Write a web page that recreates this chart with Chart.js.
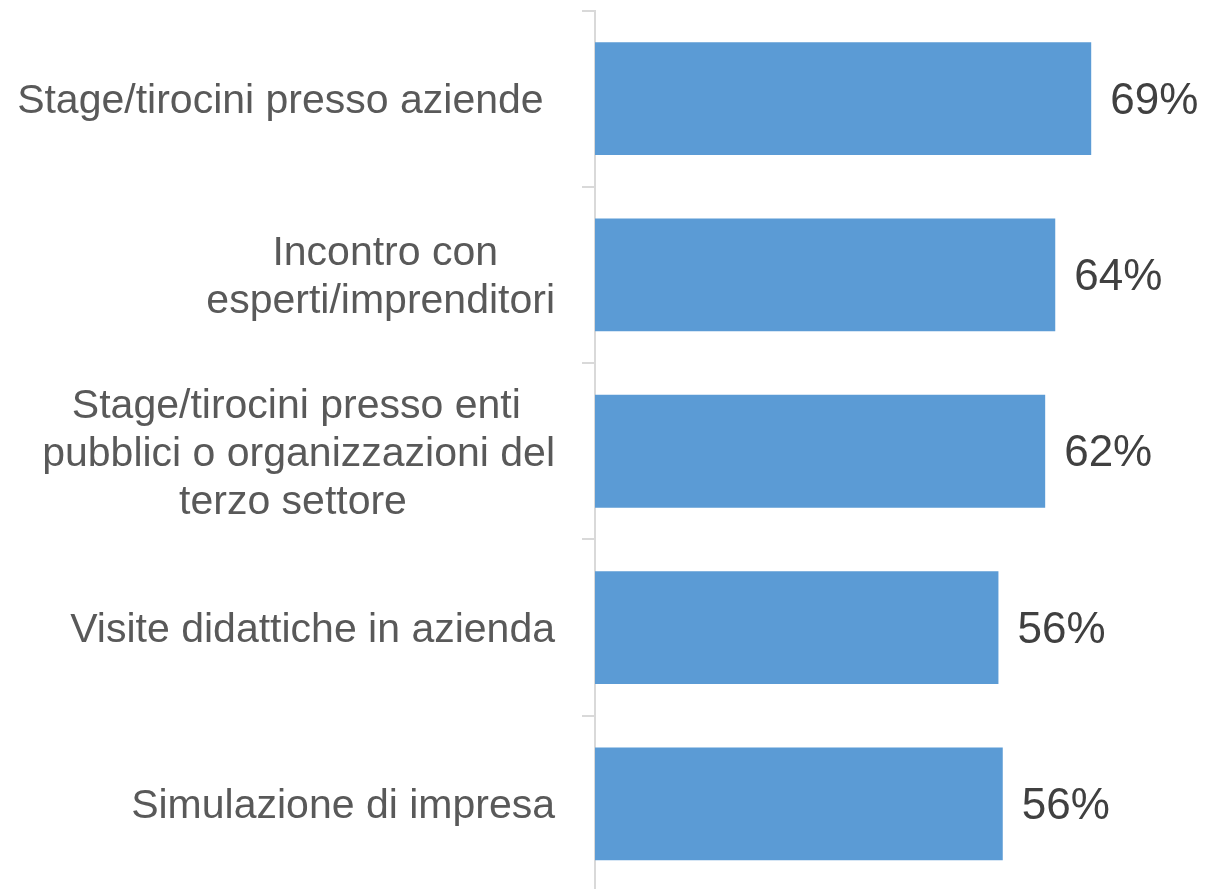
<!DOCTYPE html>
<html>
<head>
<meta charset="utf-8">
<script src="https://cdn.jsdelivr.net/npm/chart.js@4/dist/chart.umd.min.js"></script>
<style>
  html, body { margin: 0; padding: 0; background: #ffffff; overflow: hidden; }
  #wrap { position: relative; width: 1230px; height: 892px; }
</style>
</head>
<body>
<div id="wrap"><canvas id="c"></canvas></div>
<script>
const categories = [
  ["Stage/tirocini presso aziende "],
  ["Incontro con", "esperti/imprenditori"],
  ["Stage/tirocini presso enti", "pubblici o organizzazioni del", "terzo settore"],
  ["Visite didattiche in azienda"],
  ["Simulazione di impresa"]
];
const values = [69, 64, 62.6, 56.1, 56.7];
const valueLabels = ["69%", "64%", "62%", "56%", "56%"];

const TICK_FONT = { family: "'Liberation Sans', Arial, sans-serif", size: 41, lineHeight: 1.17 };
const VALUE_FONT = "44px 'Liberation Sans', Arial, sans-serif";

// center lines of a multi-line label inside a right-aligned block by padding with trailing spaces
const measureCtx = document.createElement('canvas').getContext('2d');
measureCtx.font = TICK_FONT.size + "px " + TICK_FONT.family;
const spaceW = measureCtx.measureText(' ').width;
function centeredLines(lines) {
  if (lines.length < 2) return lines;
  const widths = lines.map(l => measureCtx.measureText(l).width);
  const maxW = Math.max(...widths);
  return lines.map((l, i) => l + ' '.repeat(Math.round((maxW - widths[i]) / 2 / spaceW)));
}

const valueLabelPlugin = {
  id: 'valueLabels',
  afterDatasetsDraw(chart) {
    const ctx = chart.ctx;
    const meta = chart.getDatasetMeta(0);
    ctx.save();
    ctx.font = VALUE_FONT;
    ctx.fillStyle = '#404040';
    ctx.textAlign = 'left';
    ctx.textBaseline = 'middle';
    meta.data.forEach((bar, i) => {
      ctx.fillText(valueLabels[i], bar.x + 19, bar.y + 3);
    });
    ctx.restore();
  }
};

new Chart(document.getElementById('c'), {
  type: 'bar',
  data: {
    labels: categories,
    datasets: [{
      data: values,
      backgroundColor: '#5B9BD5',
      borderWidth: 0,
      barPercentage: 0.64,
      categoryPercentage: 1.0
    }]
  },
  options: {
    indexAxis: 'y',
    responsive: true,
    maintainAspectRatio: false,
    animation: false,
    layout: { padding: { top: 10.5, right: 0, bottom: 0, left: 0 } },
    plugins: { legend: { display: false }, tooltip: { enabled: false } },
    scales: {
      x: {
        display: false,
        min: 0,
        max: 88.3
      },
      y: {
        afterFit(scale) {
          scale.width = 595;
          scale.paddingTop = 0;
          scale.paddingBottom = 0;
        },
        border: { display: true, color: '#d9d9d9', width: 2 },
        grid: {
          display: true,
          drawOnChartArea: false,
          drawTicks: true,
          tickLength: 13,
          color: '#d9d9d9',
          lineWidth: 2
        },
        ticks: {
          color: '#595959',
          font: TICK_FONT,
          padding: 27,
          labelOffset: 3,
          autoSkip: false,
          callback(value, index) { return centeredLines(categories[index]); }
        }
      }
    }
  },
  plugins: [valueLabelPlugin]
});
</script>
</body>
</html>
